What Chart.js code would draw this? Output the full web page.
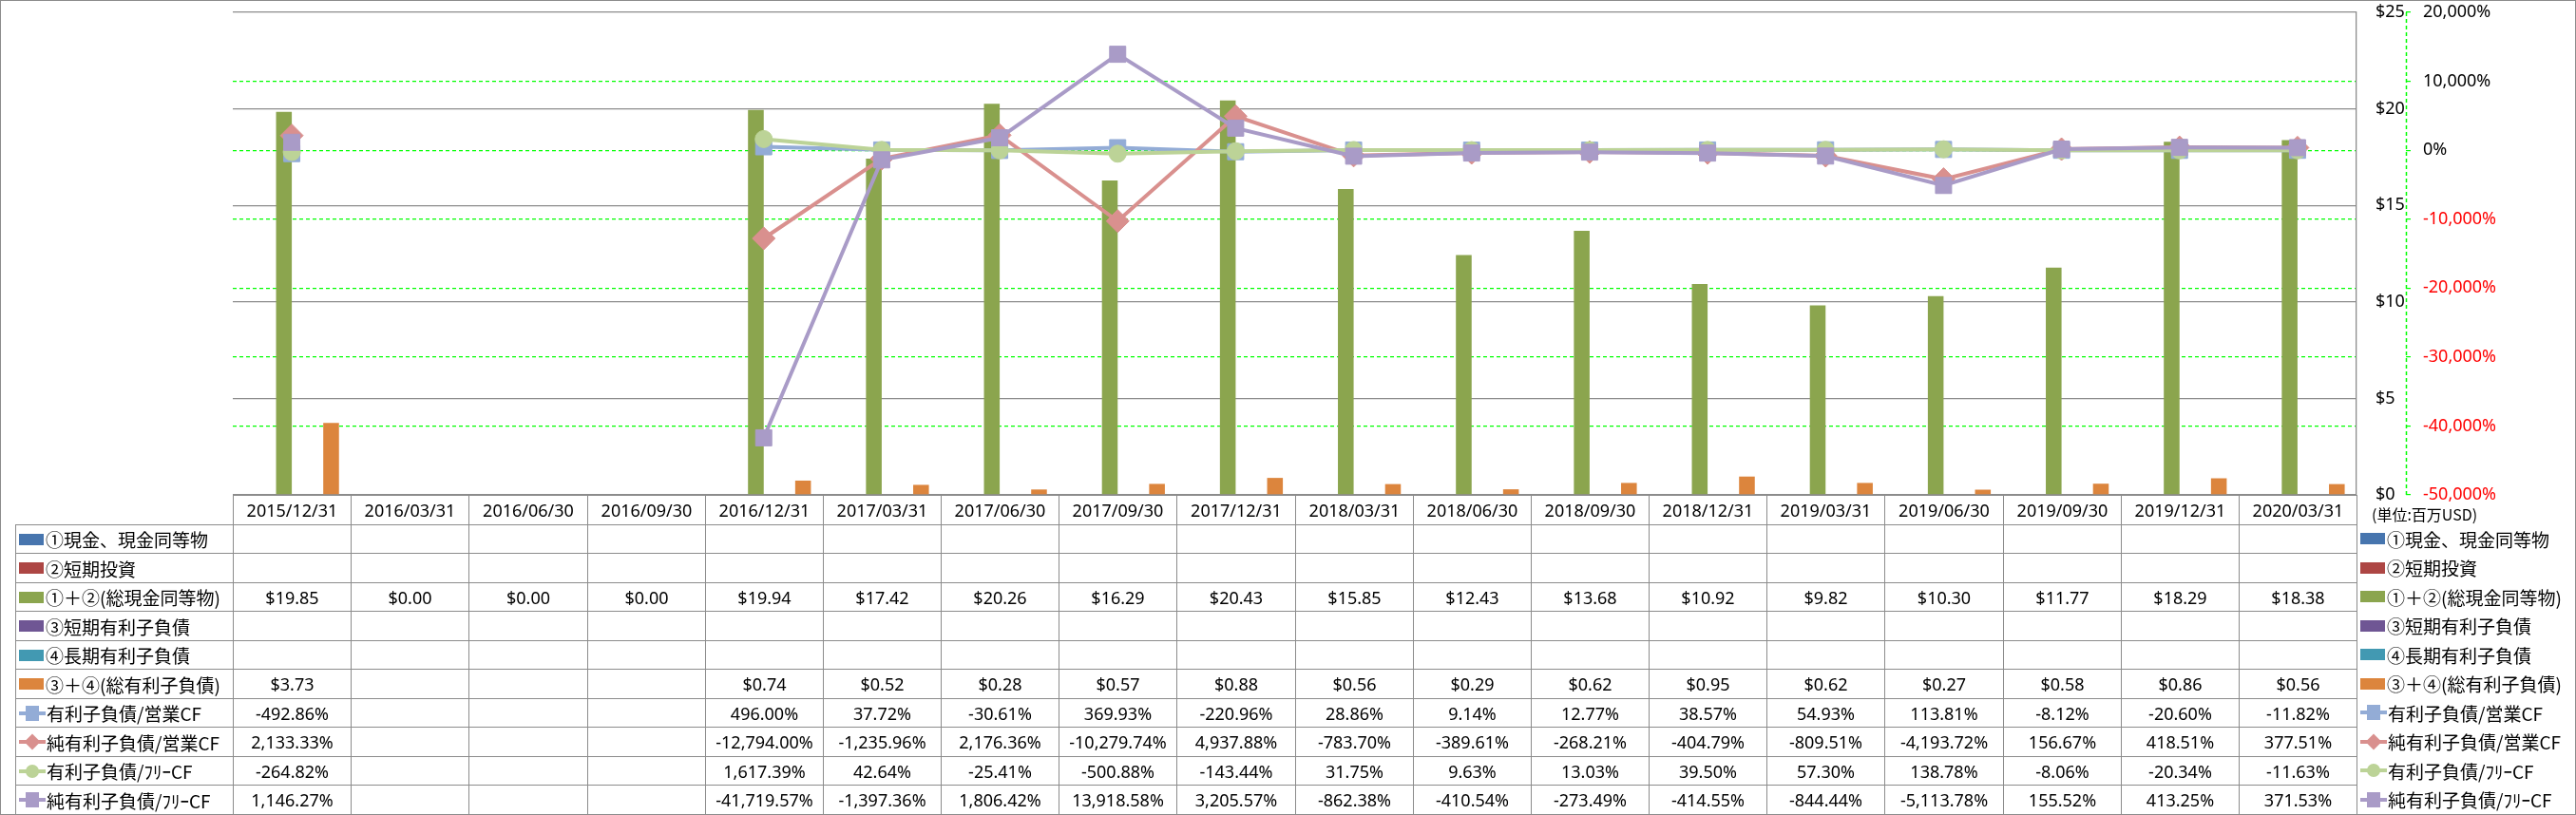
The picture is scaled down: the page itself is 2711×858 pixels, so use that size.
<!DOCTYPE html>
<html>
<head>
<meta charset="utf-8">
<script src="https://cdn.jsdelivr.net/npm/chart.js@4.4.1/dist/chart.umd.min.js"></script>
<style>
body { margin: 0; background: #fff; }
#wrap { position: relative; width: 2711px; height: 858px; overflow: hidden; }
#chart { position: absolute; left: 0; top: 0; }
#frame { position: absolute; left: 0; top: 0; width: 2711px; height: 858px; box-sizing: border-box; border: 1px solid #8c8c8c; pointer-events: none; }
.cell { position: absolute; box-sizing: border-box; border: 1px solid #8c8c8c; display: flex; align-items: center; justify-content: center; font: 18px 'Noto Sans', sans-serif; color: #000; white-space: nowrap; }
.lab { position: absolute; box-sizing: border-box; display: flex; align-items: center; font: 19px 'Noto Sans CJK JP', sans-serif; color: #000; white-space: nowrap; }
.sw { display: inline-block; width: 26px; height: 12px; margin-right: 2px; flex: none; }
.ic { position: relative; display: inline-block; width: 28px; height: 18px; margin-right: 1px; flex: none; }
.ic .ln { position: absolute; left: 0; right: 0; top: 7px; height: 4px; }
.ic .mk { position: absolute; }
#unit { position: absolute; left: 2496px; top: 529px; font: 16px 'Noto Sans CJK JP', sans-serif; color: #000; white-space: nowrap; }
</style>
</head>
<body>
<div id="wrap">
<canvas id="chart" width="2711" height="858"></canvas>
<div id="table"></div>
<div id="unit">(単位:百万USD)</div>
<div id="frame"></div>
</div>
<script>
const periods = ['2015/12/31', '2016/03/31', '2016/06/30', '2016/09/30', '2016/12/31', '2017/03/31',
    '2017/06/30', '2017/09/30', '2017/12/31', '2018/03/31', '2018/06/30', '2018/09/30',
    '2018/12/31', '2019/03/31', '2019/06/30', '2019/09/30', '2019/12/31', '2020/03/31'];

// 百万USD
const cash = [null, null, null, null, null, null, null, null, null, null, null, null, null, null, null, null, null, null];
const shortInvest = [null, null, null, null, null, null, null, null, null, null, null, null, null, null, null, null, null, null];
const totalCash = [19.85, 0, 0, 0, 19.94, 17.42, 20.26, 16.29, 20.43, 15.85, 12.43, 13.68, 10.92, 9.82, 10.30, 11.77, 18.29, 18.38];
const shortDebt = [null, null, null, null, null, null, null, null, null, null, null, null, null, null, null, null, null, null];
const longDebt = [null, null, null, null, null, null, null, null, null, null, null, null, null, null, null, null, null, null];
const totalDebt = [3.73, null, null, null, 0.74, 0.52, 0.28, 0.57, 0.88, 0.56, 0.29, 0.62, 0.95, 0.62, 0.27, 0.58, 0.86, 0.56];

// %
const debtToOpCF = [-492.86, null, null, null, 496.00, 37.72, -30.61, 369.93, -220.96, 28.86, 9.14, 12.77, 38.57, 54.93, 113.81, -8.12, -20.60, -11.82];
const netDebtToOpCF = [2133.33, null, null, null, -12794.00, -1235.96, 2176.36, -10279.74, 4937.88, -783.70, -389.61, -268.21, -404.79, -809.51, -4193.72, 156.67, 418.51, 377.51];
const debtToFreeCF = [-264.82, null, null, null, 1617.39, 42.64, -25.41, -500.88, -143.44, 31.75, 9.63, 13.03, 39.50, 57.30, 138.78, -8.06, -20.34, -11.63];
const netDebtToFreeCF = [1146.27, null, null, null, -41719.57, -1397.36, 1806.42, 13918.58, 3205.57, -862.38, -410.54, -273.49, -414.55, -844.44, -5113.78, 155.52, 413.25, 371.53];

const usdTicks = [0, 5, 10, 15, 20, 25];
const pctTicks = [-50000, -40000, -30000, -20000, -10000, 0, 10000, 20000];

const barSeries = [
    { name: '①現金、現金同等物', data: cash, color: '#4775ae' },
    { name: '②短期投資', data: shortInvest, color: '#ad4644' },
    { name: '①＋②(総現金同等物)', data: totalCash, color: '#8ba54e' },
    { name: '③短期有利子負債', data: shortDebt, color: '#6f5694' },
    { name: '④長期有利子負債', data: longDebt, color: '#4299b2' },
    { name: '③＋④(総有利子負債)', data: totalDebt, color: '#dc853d' }
];
const lineSeries = [
    { name: '有利子負債/営業CF', data: debtToOpCF, color: '#93acd6', style: 'rect', r: 12 },
    { name: '純有利子負債/営業CF', data: netDebtToOpCF, color: '#d9908e', style: 'rectRot', r: 12 },
    { name: '有利子負債/ﾌﾘｰCF', data: debtToFreeCF, color: '#bcd397', style: 'circle', r: 9 },
    { name: '純有利子負債/ﾌﾘｰCF', data: netDebtToFreeCF, color: '#a99bc7', style: 'rect', r: 12 }
];

Chart.defaults.font.family = "'Noto Sans', sans-serif";
Chart.defaults.font.size = 18;
Chart.defaults.color = '#000';

const datasets = [];
barSeries.forEach(s => datasets.push({
    type: 'bar', label: s.name, data: s.data, backgroundColor: s.color, borderWidth: 0,
    yAxisID: 'y', order: 10, categoryPercentage: 0.8, barPercentage: 1.0
}));
lineSeries.forEach((s, i) => datasets.push({
    type: 'line', label: s.name, data: s.data, borderColor: s.color, backgroundColor: s.color,
    borderWidth: 4, pointStyle: s.style, pointRadius: s.r, pointBorderWidth: 1,
    pointBorderColor: s.color, pointBackgroundColor: s.color, yAxisID: 'y2', order: 4 - i, tension: 0
}));

// dashed green line for the % axis
const pctAxisLine = {
    id: 'pctAxisLine',
    afterDraw(chart) {
        const s = chart.scales.y2, ctx = chart.ctx;
        ctx.save();
        ctx.strokeStyle = '#00ff00';
        ctx.lineWidth = 1.5;
        ctx.setLineDash([4, 3]);
        ctx.beginPath();
        ctx.moveTo(s.left + 0.5, s.top);
        ctx.lineTo(s.left + 0.5, s.bottom);
        ctx.stroke();
        ctx.restore();
    }
};

function noPad(s) { s.paddingTop = 0; s.paddingBottom = 0; }

const chart = new Chart(document.getElementById('chart'), {
    data: { labels: periods, datasets: datasets },
    options: {
        responsive: false,
        animation: false,
        events: [],
        layout: { padding: { left: 245, top: 13, bottom: 337, right: 79 } },
        plugins: { legend: { display: false }, tooltip: { enabled: false } },
        scales: {
            x: { display: false },
            y: {
                position: 'right', weight: 0, min: 0, max: 25,
                afterBuildTicks: s => { s.ticks = usdTicks.map(v => ({ value: v })); },
                afterFit: s => { s.width = 52; noPad(s); },
                grid: { color: '#8c8c8c', lineWidth: 1.3, drawTicks: false },
                border: { display: true, color: '#8c8c8c', width: 1.3 },
                ticks: { padding: 20, callback: v => '$' + v }
            },
            y2: {
                position: 'right', weight: 1, min: -50000, max: 20000,
                afterBuildTicks: s => { s.ticks = pctTicks.map(v => ({ value: v })); },
                afterFit: s => { s.width = 100; noPad(s); },
                grid: {
                    color: c => (c.tick && (c.tick.value === 20000 || c.tick.value === -50000)) ? 'rgba(0,0,0,0)' : '#00ff00',
                    tickColor: '#00ff00', lineWidth: 1.2, tickLength: 5
                },
                border: { display: false, dash: [4, 3] },
                ticks: {
                    padding: 13,
                    color: c => c.tick.value < 0 ? '#ff0000' : '#000',
                    callback: v => v.toLocaleString('en-US') + '%'
                }
            }
        }
    },
    plugins: [pctAxisLine]
});

function fmtUsd(v) { return v == null ? '' : '$' + v.toFixed(2); }
function fmtPct(v) {
    return v == null ? '' : v.toLocaleString('en-US', { minimumFractionDigits: 2, maximumFractionDigits: 2 }) + '%';
}

function iconHtml(s, isLine) {
    if (!isLine) return '<span class="sw" style="background:' + s.color + '"></span>';
    let mk;
    if (s.style === 'circle') mk = 'left:7px;top:2px;width:14px;height:14px;border-radius:50%;';
    else if (s.style === 'rectRot') mk = 'left:8px;top:3px;width:12px;height:12px;transform:rotate(45deg);';
    else mk = 'left:7px;top:1px;width:14px;height:16px;';
    return '<span class="ic"><span class="ln" style="background:' + s.color + '"></span>' +
        '<span class="mk" style="' + mk + 'background:' + s.color + '"></span></span>';
}

function buildTable(chart) {
    const area = chart.chartArea;
    const box = document.getElementById('table');
    const n = periods.length;
    const colX = i => Math.round(area.left + i * (area.right - area.left) / n);
    const rowY = i => Math.round(area.bottom + i * 30.5);
    const labelLeft = 16;
    let html = '';
    const cell = (x0, x1, y0, y1, text, extra) =>
        '<div class="cell" style="left:' + x0 + 'px;top:' + y0 + 'px;width:' + (x1 - x0 + 1) +
        'px;height:' + (y1 - y0 + 1) + 'px;' + (extra || '') + '">' + text + '</div>';

    periods.forEach((p, i) => { html += cell(colX(i), colX(i + 1), rowY(0), rowY(1), p); });

    const rows = barSeries.map(s => ({ s: s, line: false, fmt: fmtUsd }))
        .concat(lineSeries.map(s => ({ s: s, line: true, fmt: fmtPct })));
    rows.forEach((r, k) => {
        const y0 = rowY(k + 1), y1 = rowY(k + 2);
        html += cell(labelLeft, colX(0), y0, y1,
            iconHtml(r.s, r.line) + '<span style="font:19px \'Noto Sans CJK JP\',sans-serif">' + r.s.name + '</span>',
            'justify-content:flex-start;padding-left:3px;');
        r.s.data.forEach((v, i) => { html += cell(colX(i), colX(i + 1), y0, y1, r.fmt(v)); });
        html += '<div class="lab" style="left:' + (area.right + 4) + 'px;top:' + y0 + 'px;height:' + (y1 - y0) + 'px;">' +
            iconHtml(r.s, r.line) + r.s.name + '</div>';
    });
    box.innerHTML = html;
}

buildTable(chart);
</script>
</body>
</html>
